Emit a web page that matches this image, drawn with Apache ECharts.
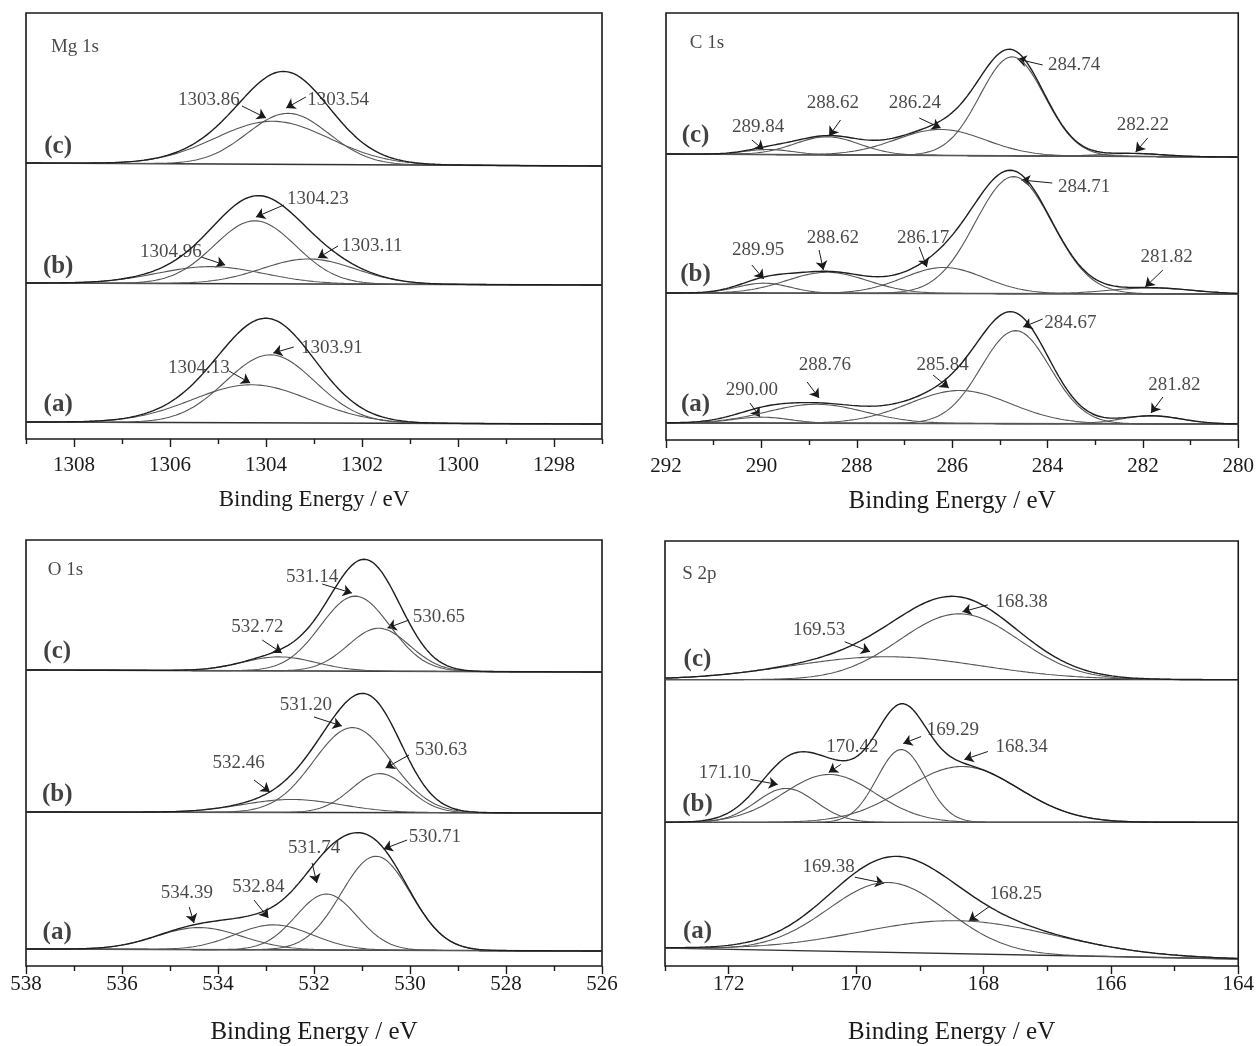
<!DOCTYPE html>
<html>
<head>
<meta charset="utf-8">
<script src="https://cdn.jsdelivr.net/npm/echarts@6/dist/echarts.min.js"></script>
<style>html,body{margin:0;padding:0;background:#fff;}</style>
</head>
<body>
<div id="main" style="width:1257px;height:1046px;"></div>
<script type="text/javascript">
// 峰参数: [中心 eV, 峰高, 半高宽 eV]，背景: [左端, 右端]
var mgPeaksA = [[1304.3, 38, 2.9], [1303.91, 68, 2.2]];
var mgPeaksB = [[1305.15, 17, 2.6], [1304.23, 63, 2.0], [1303.11, 25, 2.3]];
var mgPeaksC = [[1303.86, 43, 2.8], [1303.54, 51, 2.0]];
var mgBase = [[17, 15], [156, 154], [276, 273]];

var cPeaksA = [[290.00, 6, 1.4], [288.85, 19, 2.4], [285.84, 33, 2.5], [284.67, 93, 1.7], [281.82, 8, 1.5]];
var cPeaksB = [[289.95, 10, 1.3], [288.62, 21, 2.0], [286.17, 26, 2.0], [284.71, 117, 1.9], [281.82, 6, 2.0]];
var cPeaksC = [[289.84, 5, 1.2], [288.62, 18, 1.6], [286.24, 26, 2.2], [284.74, 99, 1.6], [282.22, 3, 1.5]];
var cBase = [[17, 16], [147, 146], [286, 283]];

var oPeaksA = [[534.39, 22, 2.1], [532.84, 25, 1.9], [531.74, 56, 1.5], [530.71, 94, 1.7]];
var oPeaksB = [[532.46, 13, 2.4], [531.20, 85, 1.9], [530.63, 39, 1.4]];
var oPeaksC = [[532.72, 14, 1.8], [531.14, 75, 1.7], [530.65, 43, 1.5]];
var oBase = [[17, 15], [154, 153], [296, 294]];

var sPeaksA = [[169.5, 70, 2.2], [168.4, 33, 3.6]];
var sPeaksB = [[171.10, 34, 1.1], [170.42, 48, 1.7], [169.29, 73, 0.9], [168.34, 56, 2.1]];
var sPeaksC = [[169.53, 23, 3.5], [168.38, 66, 2.2]];
var sBase = [[18, 7], [144, 144], [287, 287]];

// 刻度
var mgMajor = [1298, 1300, 1302, 1304, 1306, 1308];
var mgMinor = [1297, 1299, 1301, 1303, 1305, 1307, 1309];
var cMajor = [280, 282, 284, 286, 288, 290, 292];
var cMinor = [281, 283, 285, 287, 289, 291];
var oMajor = [526, 528, 530, 532, 534, 536, 538];
var oMinor = [527, 529, 531, 533, 535, 537];
var sMajor = [164, 166, 168, 170, 172];
var sMinor = [165, 167, 169, 171, 173];

// 标注: [文字, 文字x, 文字y, 箭头起x, 起y, 终x, 终y]
var mgNotes = [
  ['1303.86', 1305.19, 339, 1304.5, 333, 1304.0, 321],
  ['1303.54', 1302.5, 339, 1303.17, 342, 1303.58, 331],
  ['1304.23', 1302.92, 240, 1303.63, 234, 1304.21, 222],
  ['1304.96', 1305.98, 187, 1305.35, 182, 1304.85, 174],
  ['1303.11', 1301.79, 193, 1302.5, 193, 1302.92, 181],
  ['1303.91', 1302.63, 91, 1303.42, 92, 1303.85, 86],
  ['1304.13', 1305.4, 71, 1304.77, 68, 1304.33, 56]
];
var cNotes = [
  ['284.74', 283.44, 375, 284.1, 375, 284.63, 381],
  ['282.22', 282.0, 315, 281.9, 302, 282.15, 288],
  ['286.24', 286.78, 337, 286.69, 322, 286.24, 312],
  ['288.62', 288.5, 337, 288.34, 320, 288.58, 304],
  ['289.84', 290.07, 313, 290.2, 300, 289.95, 290],
  ['284.71', 283.23, 253, 283.9, 257, 284.55, 260],
  ['286.17', 286.61, 202, 286.69, 193, 286.53, 173],
  ['288.62', 288.5, 202, 288.79, 190, 288.7, 170],
  ['289.95', 290.07, 190, 290.2, 175, 289.95, 161],
  ['281.82', 281.5, 183, 281.58, 170, 281.95, 153],
  ['284.67', 283.52, 117, 284.1, 121, 284.51, 113],
  ['285.84', 286.2, 75, 286.4, 65, 286.07, 52],
  ['288.76', 288.67, 75, 289.04, 58, 288.79, 42],
  ['290.00', 290.2, 50, 290.24, 37, 290.03, 23],
  ['281.82', 281.34, 55, 281.58, 43, 281.83, 27]
];
var oNotes = [
  ['531.14', 532.04, 389, 531.83, 382, 531.21, 373],
  ['530.65', 529.4, 349, 530.02, 346, 530.47, 338],
  ['532.72', 533.18, 339, 533.08, 326, 532.67, 313],
  ['531.20', 532.17, 261, 532.0, 249, 531.42, 240],
  ['530.63', 529.35, 216, 530.02, 211, 530.51, 198],
  ['532.46', 533.57, 203, 533.25, 186, 532.92, 174],
  ['530.71', 529.48, 129, 530.06, 126, 530.55, 117],
  ['531.74', 532.0, 118, 532.04, 103, 531.94, 83],
  ['532.84', 533.16, 79, 533.25, 66, 532.95, 48],
  ['534.39', 534.65, 73, 534.6, 59, 534.5, 43]
];
var sNotes = [
  ['168.38', 167.4, 365, 167.93, 362, 168.33, 355],
  ['169.53', 170.58, 337, 170.18, 325, 169.78, 315],
  ['169.29', 168.48, 237, 168.98, 230, 169.26, 223],
  ['170.42', 170.06, 219, 170.24, 202, 170.43, 194],
  ['168.34', 167.4, 219, 167.93, 215, 168.3, 207],
  ['171.10', 172.06, 193, 171.66, 187, 171.23, 182],
  ['169.38', 170.43, 99, 170.02, 89, 169.56, 83],
  ['168.25', 167.49, 72, 167.9, 60, 168.23, 45]
];
// 样品标记 (a)(b)(c) 与元素名
var mgTags = [['(a)', 1308.33, 34], ['(b)', 1308.33, 172], ['(c)', 1308.33, 292], ['Mg 1s', 1307.98, 392]];
var cTags = [['(a)', 291.38, 35], ['(b)', 291.38, 165], ['(c)', 291.38, 304], ['C 1s', 291.14, 397]];
var oTags = [['(a)', 537.35, 33], ['(b)', 537.35, 171], ['(c)', 537.35, 314], ['O 1s', 537.18, 396]];
var sTags = [['(a)', 172.49, 35], ['(b)', 172.49, 162], ['(c)', 172.49, 307], ['S 2p', 172.46, 393]];

var FONT = '"Liberation Serif", "Times New Roman", serif';

var panels = [
  {min: 1297, max: 1309, ymax: 426, grid: {left: 26, top: 13, width: 576, height: 426},
   spectra: [mgPeaksA, mgPeaksB, mgPeaksC], base: mgBase, major: mgMajor, minor: mgMinor,
   notes: mgNotes, tags: mgTags, labelMargin: 16, nameGap: 49, nameSize: 23},
  {min: 280, max: 292, ymax: 427, grid: {left: 666, top: 13, width: 579, height: 427},
   spectra: [cPeaksA, cPeaksB, cPeaksC], base: cBase, major: cMajor, minor: cMinor,
   notes: cNotes, tags: cTags, labelMargin: 16, nameGap: 49, nameSize: 25},
  {min: 526, max: 538, ymax: 426, grid: {left: 26, top: 540, width: 576, height: 426},
   spectra: [oPeaksA, oPeaksB, oPeaksC], base: oBase, major: oMajor, minor: oMinor,
   notes: oNotes, tags: oTags, labelMargin: 8, nameGap: 54, nameSize: 25},
  {min: 164, max: 173, ymax: 426, grid: {left: 665, top: 541, width: 579, height: 426},
   spectra: [sPeaksA, sPeaksB, sPeaksC], base: sBase, major: sMajor, minor: sMinor,
   notes: sNotes, tags: sTags, labelMargin: 8, nameGap: 54, nameSize: 25}
];

function gauss(p, x) {
  return p[1] * Math.exp(-4 * Math.LN2 * (x - p[0]) * (x - p[0]) / (p[2] * p[2]));
}
function curve(peaks, b, lo, hi) {
  var pts = [], n = 600;
  for (var i = 0; i <= n; i++) {
    var x = hi - (hi - lo) * i / n;
    var y = b[0] + (b[1] - b[0]) * i / n;
    for (var k = 0; k < peaks.length; k++) y += gauss(peaks[k], x);
    pts.push([x, y]);
  }
  return pts;
}

var grids = [], xAxes = [], yAxes = [], series = [];
panels.forEach(function (pn, gi) {
  grids.push(Object.assign({show: true, borderColor: '#1a1a1a', borderWidth: 1.6, backgroundColor: '#fff'}, pn.grid));
  xAxes.push({
    type: 'value', gridIndex: gi, position: 'bottom', min: pn.min, max: pn.max, inverse: true,
    name: 'Binding Energy / eV', nameLocation: 'middle', nameGap: pn.nameGap,
    nameTextStyle: {fontFamily: FONT, fontSize: pn.nameSize, color: '#1a1a1a'},
    axisLine: {show: false}, splitLine: {show: false},
    axisTick: {show: true, length: 8, customValues: pn.major, lineStyle: {color: '#1a1a1a', width: 1.4}},
    axisLabel: {customValues: pn.major, margin: pn.labelMargin, fontFamily: FONT, fontSize: 21, color: '#1a1a1a',
      formatter: function (v) { return String(v); }}
  });
  xAxes.push({
    type: 'value', gridIndex: gi, position: 'bottom', min: pn.min, max: pn.max, inverse: true,
    axisLine: {show: false}, splitLine: {show: false}, axisLabel: {show: false},
    axisTick: {show: true, length: 5, customValues: pn.minor, lineStyle: {color: '#1a1a1a', width: 1.4}}
  });
  yAxes.push({type: 'value', gridIndex: gi, min: 0, max: pn.ymax, show: false});

  var xi = gi * 2;
  pn.spectra.forEach(function (peaks, si) {
    var b = pn.base[si];
    series.push({
      type: 'line', xAxisIndex: xi, yAxisIndex: gi, showSymbol: false, silent: true,
      data: [[pn.max, b[0]], [pn.min, b[1]]],
      lineStyle: {color: '#333', width: 1.3}
    });
    peaks.forEach(function (p) {
      series.push({
        type: 'line', xAxisIndex: xi, yAxisIndex: gi, showSymbol: false, silent: true,
        data: curve([p], b, pn.min, pn.max),
        lineStyle: {color: '#555', width: 1.1}
      });
    });
    series.push({
      type: 'line', xAxisIndex: xi, yAxisIndex: gi, showSymbol: false, silent: true,
      data: curve(peaks, b, pn.min, pn.max),
      lineStyle: {color: '#1e1e1e', width: 1.4}
    });
  });

  // 箭头
  series.push({
    type: 'lines', coordinateSystem: 'cartesian2d', xAxisIndex: xi, yAxisIndex: gi, silent: true,
    symbol: ['none', 'arrow'], symbolSize: 9,
    lineStyle: {color: '#1a1a1a', width: 1, opacity: 1},
    data: pn.notes.map(function (n) { return {coords: [[n[3], n[4]], [n[5], n[6]]]}; })
  });
  // 峰位文字
  series.push({
    type: 'scatter', xAxisIndex: xi, yAxisIndex: gi, silent: true, symbolSize: 1,
    itemStyle: {color: 'rgba(0,0,0,0)'},
    label: {show: true, position: 'inside', formatter: '{b}', fontFamily: FONT, fontSize: 19, color: '#1a1a1a'},
    data: pn.notes.map(function (n) { return {name: n[0], value: [n[1], n[2]]}; })
  });
  // (a)(b)(c)
  series.push({
    type: 'scatter', xAxisIndex: xi, yAxisIndex: gi, silent: true, symbolSize: 1,
    itemStyle: {color: 'rgba(0,0,0,0)'},
    label: {show: true, position: 'inside', formatter: '{b}', fontFamily: FONT, fontSize: 25, fontWeight: 'bold', color: '#111'},
    data: pn.tags.slice(0, 3).map(function (t) { return {name: t[0], value: [t[1], t[2]]}; })
  });
  series.push({
    type: 'scatter', xAxisIndex: xi, yAxisIndex: gi, silent: true, symbolSize: 1,
    itemStyle: {color: 'rgba(0,0,0,0)'},
    label: {show: true, position: 'inside', formatter: '{b}', fontFamily: FONT, fontSize: 19, color: '#1a1a1a'},
    data: pn.tags.slice(3).map(function (t) { return {name: t[0], value: [t[1], t[2]]}; })
  });
});

var myChart = echarts.init(document.getElementById('main'));
myChart.setOption({
  animation: false,
  backgroundColor: '#fff',
  grid: grids,
  xAxis: xAxes,
  yAxis: yAxes,
  series: series
});
</script>
</body>
</html>
